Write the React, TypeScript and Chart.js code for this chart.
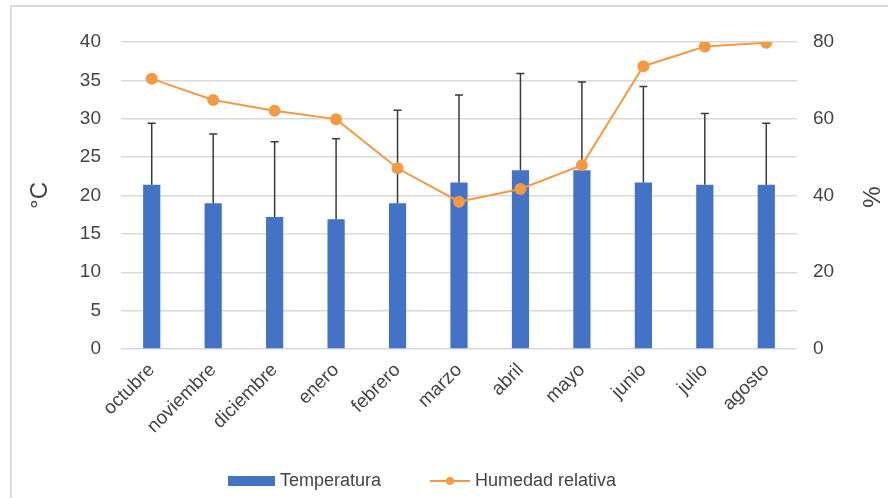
import React, { useEffect, useRef } from "react";
import { Chart, registerables } from "chart.js";

Chart.register(...registerables);

const months = ["octubre", "noviembre", "diciembre", "enero", "febrero", "marzo", "abril", "mayo", "junio", "julio", "agosto"];
const temperatura = [21.4, 19.0, 17.2, 16.9, 19.0, 21.7, 23.3, 23.3, 21.7, 21.4, 21.4];
const temperaturaDE = [8.0, 9.0, 9.8, 10.5, 12.1, 11.4, 12.6, 11.5, 12.5, 9.3, 8.0];
const humedad = [70.4, 64.9, 62.1, 59.9, 47.1, 38.4, 41.7, 47.9, 73.7, 78.8, 79.8];
const legendLabels = ["Temperatura", "Humedad relativa"];

const BLUE = "#4472C4";
const ORANGE = "#F29A45";
const TEXT = "#444444";
const FONT = "'Liberation Sans', Arial, sans-serif";

export default function App() {
  const ref = useRef<HTMLCanvasElement | null>(null);

  useEffect(() => {
    if (!ref.current) return;

    const framePlugin = {
      id: "frame",
      beforeDraw(chart: any) {
        const { ctx, width, height } = chart;
        ctx.save();
        ctx.fillStyle = "#ffffff";
        ctx.fillRect(0, 0, width, height);
        ctx.strokeStyle = "#dcdcdc";
        ctx.lineWidth = 2;
        ctx.beginPath();
        ctx.moveTo(11, height);
        ctx.lineTo(11, 6);
        ctx.lineTo(width, 6);
        ctx.stroke();
        ctx.restore();
      },
    };

    const errorBarPlugin = {
      id: "errorBars",
      afterDatasetDraw(chart: any, args: any) {
        if (args.index !== 0) return;
        const meta = chart.getDatasetMeta(0);
        const y = chart.scales.y;
        const { ctx } = chart;
        ctx.save();
        ctx.strokeStyle = "#3a3a3a";
        ctx.lineWidth = 1.5;
        meta.data.forEach((bar: any, i: number) => {
          const top = y.getPixelForValue(temperatura[i] + temperaturaDE[i]);
          const base = y.getPixelForValue(temperatura[i]);
          ctx.beginPath();
          ctx.moveTo(bar.x, base);
          ctx.lineTo(bar.x, top);
          ctx.moveTo(bar.x - 4, top);
          ctx.lineTo(bar.x + 4, top);
          ctx.stroke();
        });
        ctx.restore();
      },
    };

    const extrasPlugin = {
      id: "extras",
      afterDraw(chart: any) {
        const { ctx } = chart;
        ctx.save();
        ctx.fillStyle = TEXT;
        ctx.font = `24px ${FONT}`;
        ctx.textAlign = "center";
        ctx.textBaseline = "middle";
        ctx.translate(873, 197);
        ctx.rotate(-Math.PI / 2);
        ctx.fillText("%", 0, 0);
        ctx.restore();

        ctx.save();
        const cy = 481;
        ctx.font = `18px ${FONT}`;
        ctx.textBaseline = "middle";
        ctx.textAlign = "left";
        let x = 228;
        ctx.fillStyle = BLUE;
        ctx.fillRect(x, cy - 5, 47, 10);
        x += 52;
        ctx.fillStyle = TEXT;
        ctx.fillText(legendLabels[0], x, cy);
        x += ctx.measureText(legendLabels[0]).width + 49;
        ctx.strokeStyle = ORANGE;
        ctx.lineWidth = 2;
        ctx.beginPath();
        ctx.moveTo(x, cy);
        ctx.lineTo(x + 40, cy);
        ctx.stroke();
        ctx.fillStyle = ORANGE;
        ctx.beginPath();
        ctx.arc(x + 20, cy, 4, 0, Math.PI * 2);
        ctx.fill();
        ctx.fillStyle = TEXT;
        ctx.fillText(legendLabels[1], x + 45, cy);
        ctx.restore();
      },
    };

    const chart = new Chart(ref.current, {
      type: "bar",
      data: {
        labels: months,
        datasets: [
          {
            type: "bar",
            label: legendLabels[0],
            data: temperatura,
            backgroundColor: BLUE,
            barPercentage: 0.28,
            categoryPercentage: 1,
            yAxisID: "y",
            order: 1,
          },
          {
            type: "line",
            label: legendLabels[1],
            data: humedad,
            borderColor: ORANGE,
            backgroundColor: ORANGE,
            borderWidth: 2,
            pointRadius: 5,
            pointBackgroundColor: ORANGE,
            pointBorderColor: ORANGE,
            tension: 0,
            yAxisID: "y1",
            order: 0,
          } as any,
        ],
      },
      options: {
        animation: false,
        responsive: false,
        maintainAspectRatio: false,
        layout: { padding: { top: 42, left: 0, right: 0, bottom: 35 } },
        plugins: {
          legend: { display: false },
          tooltip: { enabled: false },
        },
        scales: {
          x: {
            grid: { display: false },
            border: { display: false },
            ticks: {
              color: TEXT,
              font: { family: FONT, size: 19 },
              maxRotation: 45,
              minRotation: 45,
              padding: 2,
            },
            afterFit(scale: any) {
              scale.height = 114;
            },
          },
          y: {
            position: "left",
            min: 0,
            max: 40,
            ticks: {
              stepSize: 5,
              color: TEXT,
              font: { family: FONT, size: 19 },
              padding: 20,
            },
            grid: { color: "#d9d9d9", lineWidth: 1.5, drawTicks: false },
            border: { display: false },
            title: {
              display: true,
              text: "°C",
              color: TEXT,
              font: { family: FONT, size: 24 },
              padding: { top: 26, bottom: 0 },
            },
            afterFit(scale: any) {
              scale.width = 121;
            },
          },
          y1: {
            position: "right",
            min: 0,
            max: 80,
            ticks: {
              stepSize: 20,
              color: TEXT,
              font: { family: FONT, size: 19 },
              padding: 16,
            },
            grid: { display: false, drawTicks: false },
            border: { display: false },
            afterFit(scale: any) {
              scale.width = 91;
            },
          },
        },
      } as any,
      plugins: [framePlugin, errorBarPlugin, extrasPlugin],
    });

    return () => chart.destroy();
  }, []);

  return (
    <div style={{ position: "absolute", left: 0, top: 0, width: 888, height: 498 }}>
      <canvas ref={ref} width={888} height={498} style={{ width: 888, height: 498, display: "block" }} />
    </div>
  );
}
